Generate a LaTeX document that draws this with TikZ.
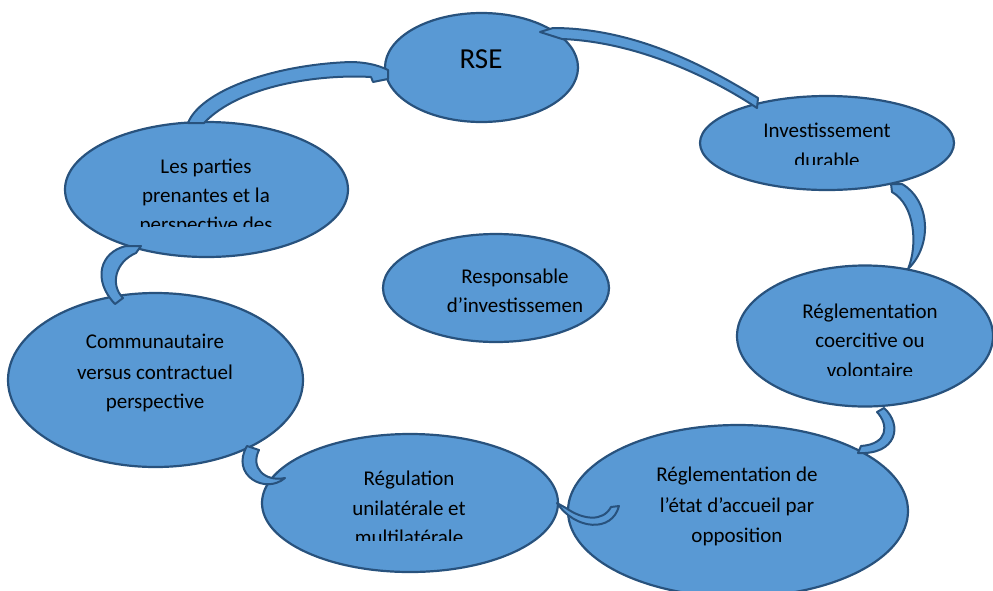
\documentclass[tikz,border=0pt]{standalone}
\usepackage{fontspec}
\setmainfont{Carlito}
\usetikzlibrary{shapes.geometric}
\definecolor{bubfill}{RGB}{89,153,212}
\definecolor{bubline}{RGB}{40,82,125}
\begin{document}
\begin{tikzpicture}[x=1pt,y=-1pt,
  bubble/.style={ellipse,draw=bubline,fill=bubfill,line width=2.2pt,inner sep=0pt},
  txt/.style={font=\fontsize{21}{25}\selectfont,anchor=base,inner sep=0pt,text=black},
  bigtxt/.style={font=\fontsize{29}{34}\selectfont,anchor=base,inner sep=0pt,text=black},
  band/.style={draw=bubline,fill=bubfill,line width=2pt,line join=round}]
\useasboundingbox (0,0) rectangle (993,590);

% ellipses
\node[bubble,minimum width=193pt,minimum height=109pt] (rse) at (481.5,67.5) {};
\node[bubble,minimum width=254pt,minimum height=94pt] (inv) at (827,143) {};
\node[bubble,minimum width=256pt,minimum height=141pt] (coer) at (865,336) {};
\node[bubble,minimum width=340pt,minimum height=172pt] (acc) at (738,511) {};
\node[bubble,minimum width=296pt,minimum height=138pt] (regu) at (410,503) {};
\node[bubble,minimum width=295pt,minimum height=174pt] (comm) at (155.5,380) {};
\node[bubble,minimum width=283pt,minimum height=135pt] (parties) at (206.5,189.5) {};
\node[bubble,minimum width=226pt,minimum height=108pt] (resp) at (496,288) {};

% curved block arrows
\path[band] (540,32) -- (553,28) .. controls (640,28) and (715,72) .. (758,98)
  -- (757,108) .. controls (715,80) and (640,42) .. (562,39) -- cycle;
\path[band] (188,123) .. controls (200,92) and (270,65) .. (350,62)
  .. controls (365,62) and (378,65) .. (388,70) -- (388,79) -- (373,82) -- (371,77)
  .. controls (320,74) and (240,85) .. (204,123) -- cycle;
\path[band] (891,184) -- (902,184) .. controls (930,200) and (933,245) .. (908,269)
  .. controls (918,245) and (915,205) .. (892,192) -- cycle;
\path[band] (877,412) -- (884,408) .. controls (903,425) and (897,455) .. (858,453)
  -- (861,446) .. controls (888,444) and (889,425) .. cycle;
\path[band] (557,503) .. controls (575,530) and (612,533) .. (619,506)
  -- (611,507) .. controls (603,522) and (583,520) .. (566,508) -- cycle;
\path[band] (247,446) -- (259,450) .. controls (250,468) and (265,482) .. (285,478)
  .. controls (265,495) and (230,475) .. cycle;
\path[band] (115,304) .. controls (92,280) and (100,252) .. (126,246) -- (141,246) -- (136,253)
  .. controls (115,262) and (110,285) .. (123,298) -- cycle;

% texts
\node[bigtxt] (trse) at (481,68) {RSE};

\node[txt] (tinv1) at (827,137) {Investissement};
\begin{scope}
  \clip (700,100) rectangle (960,164);
  \node[txt] (tinv2) at (827,167) {durable};
\end{scope}

\node[txt] (tcoer1) at (870,318) {Réglementation};
\node[txt] (tcoer2) at (870,347) {coercitive ou};
\begin{scope}
  \clip (740,300) rectangle (993,375);
  \node[txt] (tcoer3) at (870,377) {volontaire};
\end{scope}

\node[txt] (tacc1) at (737,481) {Réglementation de};
\node[txt] (tacc2) at (737,512) {l’état d’accueil par};
\node[txt] (tacc3) at (737,542) {opposition};

\node[txt] (treg1) at (409,485) {Régulation};
\node[txt] (treg2) at (409,515) {unilatérale et};
\begin{scope}
  \clip (270,440) rectangle (550,540);
  \node[txt] (treg3) at (409,544) {multilatérale};
\end{scope}

\node[txt] (tcom1) at (155,348) {Communautaire};
\node[txt] (tcom2) at (155,379) {versus contractuel};
\node[txt] (tcom3) at (155,408) {perspective};

\node[txt] (tpar1) at (206,173) {Les parties};
\node[txt] (tpar2) at (206,202) {prenantes et la};
\begin{scope}
  \clip (70,150) rectangle (345,226);
  \node[txt] (tpar3) at (206,231) {perspective des};
\end{scope}

\node[txt] (tres1) at (515,283) {Responsable};
\node[txt] (tres2) at (515,312) {d’investissemen};
\end{tikzpicture}
\end{document}
